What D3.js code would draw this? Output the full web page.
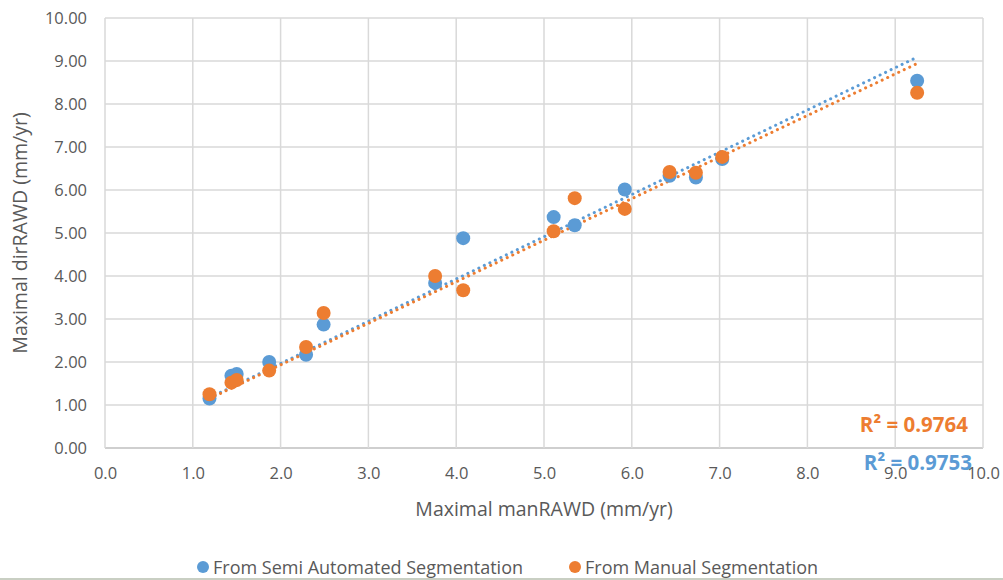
<!DOCTYPE html>
<html>
<head>
<meta charset="utf-8">
<script src="https://cdn.jsdelivr.net/npm/d3@7"></script>
<style>
  body { margin: 0; background: #fff; }
  svg text { font-family: "Open Sans", sans-serif; fill: #595959; }
</style>
</head>
<body>
<div id="chart"></div>
<script>
// data
const semiX = [1.19, 1.44, 1.50, 1.87, 2.29, 2.49, 3.76, 4.08, 5.11, 5.35, 5.92, 6.43, 6.73, 7.03, 9.25];
const semiY = [1.15, 1.68, 1.72, 2.00, 2.17, 2.87, 3.84, 4.88, 5.37, 5.18, 6.01, 6.33, 6.29, 6.72, 8.54];
const manX  = [1.19, 1.44, 1.50, 1.87, 2.29, 2.49, 3.76, 4.08, 5.11, 5.35, 5.92, 6.43, 6.73, 7.03, 9.25];
const manY  = [1.25, 1.52, 1.58, 1.80, 2.35, 3.14, 4.00, 3.67, 5.04, 5.81, 5.56, 6.42, 6.40, 6.77, 8.26];
const xTicks = d3.range(0, 10.01, 1);
const yTicks = d3.range(0, 10.01, 1);
const seriesNames = ["From Semi Automated Segmentation", "From Manual Segmentation"];
const r2Labels = ["R\u00B2 = 0.9753", "R\u00B2 = 0.9764"];

function init() {
    const W = 1003, H = 580;
    const margin = { top: 18, left: 105 },
        w = 983 - margin.left,
        h = 448 - margin.top;

    const colors = ["#5B9BD5", "#ED7D31"];

    const svg = d3.select("#chart").append("svg")
        .attr("width", W).attr("height", H);

    const g = svg.append("g")
        .attr("transform", `translate(${margin.left},${margin.top})`);

    const x = d3.scaleLinear().domain([0, 10]).range([0, w]);
    const y = d3.scaleLinear().domain([0, 10]).range([h, 0]);

    // gridlines
    g.append("g").selectAll("line").data(yTicks).enter().append("line")
        .attr("x1", 0).attr("x2", w)
        .attr("y1", d => y(d)).attr("y2", d => y(d))
        .attr("stroke", d => d === 0 ? "#BFBFBF" : "#D9D9D9").attr("stroke-width", 1.5);
    g.append("g").selectAll("line").data(xTicks).enter().append("line")
        .attr("y1", 0).attr("y2", h)
        .attr("x1", d => x(d)).attr("x2", d => x(d))
        .attr("stroke", "#D9D9D9").attr("stroke-width", 1.5);

    // axes (labels only)
    const xAxis = g.append("g")
        .attr("transform", `translate(0,${h})`)
        .call(d3.axisBottom(x).tickValues(xTicks).tickSize(0).tickPadding(19).tickFormat(d3.format(".1f")));
    xAxis.select(".domain").remove();
    xAxis.selectAll("text").style("font-size", "16.5px").attr("fill", "#595959");

    const yAxis = g.append("g")
        .call(d3.axisLeft(y).tickValues(yTicks).tickSize(0).tickPadding(18).tickFormat(d3.format(".2f")));
    yAxis.select(".domain").remove();
    yAxis.selectAll("text").style("font-size", "16.5px").attr("fill", "#595959");

    // axis titles
    svg.append("text")
        .attr("x", 544).attr("y", 516)
        .attr("text-anchor", "middle")
        .style("font-size", "19.5px")
        .text("Maximal manRAWD (mm/yr)");
    svg.append("text")
        .attr("transform", `translate(27,${margin.top + h / 2}) rotate(-90)`)
        .attr("text-anchor", "middle")
        .style("font-size", "19.5px")
        .text("Maximal dirRAWD (mm/yr)");

    const series = [
        { xs: semiX, ys: semiY },
        { xs: manX, ys: manY }
    ];

    // linear trendlines through the origin (least squares)
    series.forEach((s, i) => {
        const b = d3.sum(s.xs, (d, k) => d * s.ys[k]) / d3.sum(s.xs, d => d * d);
        const x0 = d3.min(s.xs), x1 = d3.max(s.xs);
        g.append("line")
            .attr("x1", x(x0)).attr("y1", y(b * x0))
            .attr("x2", x(x1)).attr("y2", y(b * x1))
            .attr("stroke", colors[i])
            .attr("stroke-width", 3)
            .attr("stroke-linecap", "round")
            .attr("stroke-dasharray", "0.1 6");
    });

    // points
    series.forEach((s, i) => {
        g.append("g").selectAll("circle")
            .data(s.xs.map((d, k) => [d, s.ys[k]]))
            .enter().append("circle")
            .attr("cx", d => x(d[0]))
            .attr("cy", d => y(d[1]))
            .attr("r", 7)
            .attr("fill", colors[i]);
    });

    // R² labels
    svg.append("text")
        .attr("x", 968).attr("y", 432)
        .attr("text-anchor", "end")
        .style("font-size", "20.5px").style("font-weight", "bold")
        .style("fill", colors[1])
        .text(r2Labels[1]);
    svg.append("text")
        .attr("x", 972).attr("y", 470)
        .attr("text-anchor", "end")
        .style("font-size", "20.5px").style("font-weight", "bold")
        .style("fill", colors[0])
        .text(r2Labels[0]);

    // legend
    const legendX = [203, 575];
    seriesNames.forEach((name, i) => {
        svg.append("circle")
            .attr("cx", legendX[i]).attr("cy", 567).attr("r", 6)
            .attr("fill", colors[i]);
        svg.append("text")
            .attr("x", legendX[i] + 10).attr("y", 574)
            .style("font-size", "18px")
            .text(name);
    });

    // bottom border
    svg.append("line")
        .attr("x1", 0).attr("x2", W).attr("y1", 579).attr("y2", 579)
        .attr("stroke", "#C9CFC3").attr("stroke-width", 2);
}

window.onload = init;
</script>
</body>
</html>
